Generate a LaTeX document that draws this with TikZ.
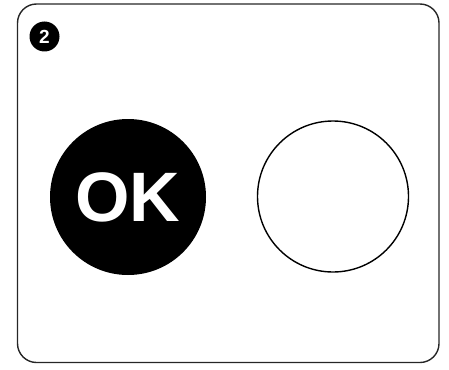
\documentclass[tikz,border=0pt]{standalone}
\usepackage{fontspec}
\setmainfont{Liberation Sans}
\begin{document}
\begin{tikzpicture}[x=1pt,y=-1pt,
  frame/.style={draw=black!85,line width=1.4pt,rounded corners=19pt},
  badge/.style={circle,fill=black,text=white,inner sep=0pt,minimum size=30pt,font=\bfseries\fontsize{19}{19}\selectfont},
  okbtn/.style={circle,fill=black,text=white,inner sep=0pt,minimum size=156pt,font=\bfseries\fontsize{70}{70}\selectfont},
  emptybtn/.style={circle,draw=black,line width=1.4pt,fill=white,inner sep=0pt,minimum size=151pt}]
\useasboundingbox (0,0) rectangle (449,369);
\draw[frame] (17.5,4) rectangle (439,362.5);
\node[badge] (b) at (44.5,36.5) {2};
\node[okbtn] (ok) at (128,197) {OK};
\node[emptybtn] (e) at (333,196.5) {};
\end{tikzpicture}
\end{document}
